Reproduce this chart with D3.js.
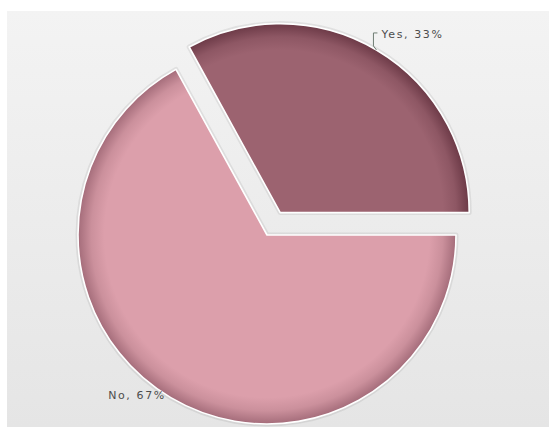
<!DOCTYPE html>
<html>
<head>
<meta charset="utf-8">
<script src="https://cdn.jsdelivr.net/npm/d3@7"></script>
<style>
  html, body { margin: 0; padding: 0; background: #ffffff; }
  svg { display: block; }
  .lbl { font-family: "DejaVu Sans", Verdana, sans-serif; font-size: 11px; fill: #4d4d4d; letter-spacing: 1.6px; }
</style>
</head>
<body>
<svg id="chart" width="549" height="427"></svg>
<script>
// Survey answers and their shares (percent)
const categories = ["Yes", "No"];
const shares = [33, 67];
const sliceColors = ["#9c6370", "#dc9fab"];
const rimColors = ["#6c3a47", "#a46c7a"];
const labels = ["Yes, 33%", "No, 67%"];

const W = 549, H = 427;
const cx = 267, cy = 235, R = 189;
const explode = 26;

const svg = d3.select("#chart");
const defs = svg.append("defs");

// Panel background
const bg = defs.append("linearGradient").attr("id", "panelBg")
  .attr("x1", 0).attr("y1", 0).attr("x2", 0).attr("y2", 1);
bg.append("stop").attr("offset", 0).attr("stop-color", "#f3f3f3");
bg.append("stop").attr("offset", 1).attr("stop-color", "#e5e5e5");

svg.append("rect").attr("x", 7).attr("y", 11)
  .attr("width", W - 7).attr("height", H - 11)
  .attr("fill", "url(#panelBg)");

// Rim shading gradients, one per slice
categories.forEach((c, i) => {
  const mix = d3.interpolateRgb(sliceColors[i], rimColors[i]);
  const g = defs.append("radialGradient").attr("id", "rim" + i)
    .attr("gradientUnits", "userSpaceOnUse")
    .attr("cx", 0).attr("cy", 0).attr("r", R);
  g.append("stop").attr("offset", 0).attr("stop-color", sliceColors[i]);
  g.append("stop").attr("offset", 0.86).attr("stop-color", sliceColors[i]);
  g.append("stop").attr("offset", 0.93).attr("stop-color", mix(0.3));
  g.append("stop").attr("offset", 0.975).attr("stop-color", mix(0.75));
  g.append("stop").attr("offset", 1).attr("stop-color", rimColors[i]);
});

const total = d3.sum(shares);
const start = Math.PI / 2 - 2 * Math.PI * shares[0] / total;

const pie = d3.pie().sort(null).value(d => d)
  .startAngle(start).endAngle(start + 2 * Math.PI);
const arcs = pie(shares);
const arc = d3.arc().innerRadius(0).outerRadius(R);

const root = svg.append("g").attr("transform", `translate(${cx},${cy})`);

const offsetOf = (d, i) => {
  const m = (d.startAngle + d.endAngle) / 2;
  const e = i === 0 ? explode : 0;
  return [Math.sin(m) * e, -Math.cos(m) * e];
};

// Soft outline shadow behind the slices
arcs.forEach((d, i) => {
  const [ox, oy] = offsetOf(d, i);
  root.append("path")
    .attr("transform", `translate(${ox},${oy})`)
    .attr("d", arc(d))
    .attr("fill", "none")
    .attr("stroke", "rgba(0,0,0,0.07)")
    .attr("stroke-width", 5)
    .attr("stroke-linejoin", "round");
});

arcs.forEach((d, i) => {
  const [ox, oy] = offsetOf(d, i);
  const g = root.append("g").attr("transform", `translate(${ox},${oy})`);
  g.append("path")
    .attr("d", arc(d))
    .attr("fill", `url(#rim${i})`)
    .attr("stroke", "#ffffff")
    .attr("stroke-width", 1.6)
    .attr("stroke-linejoin", "round");
});

// Labels
arcs.forEach((d, i) => {
  const [ox, oy] = offsetOf(d, i);
  const m = (d.startAngle + d.endAngle) / 2;
  const px = ox + Math.sin(m) * R;
  const py = oy - Math.cos(m) * R;
  if (i === 0) {
    const pts = [[px, py], [px - 3, py - 4], [px - 3, py - 17], [px + 1, py - 17]];
    root.append("path")
      .attr("d", d3.line()(pts))
      .attr("fill", "none")
      .attr("stroke", "#6f7d73")
      .attr("stroke-width", 1);
    root.append("text").attr("class", "lbl")
      .attr("x", px + 5).attr("y", py - 12)
      .text(labels[i]);
  } else {
    root.append("text").attr("class", "lbl")
      .attr("x", px - 5).attr("y", py + 1)
      .attr("text-anchor", "end")
      .text(labels[i]);
  }
});
</script>
</body>
</html>
